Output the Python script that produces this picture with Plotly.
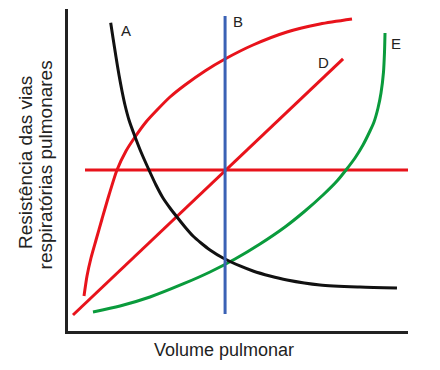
import plotly.graph_objects as go

# Schematic data (arbitrary units, 0-100 on both axes)
a_x = [12.56, 13.24, 14.12, 15.0, 15.88, 16.76, 17.94, 19.41, 21.47, 23.82, 25.88, 27.94, 30.0,
       32.06, 34.41, 36.76, 39.12, 41.76, 45.59, 50.59, 54.41, 59.41, 64.41, 74.12, 85.88, 96.76]
a_y = [95.75, 90.99, 85.09, 79.50, 74.53, 70.19, 65.53, 61.18, 55.59, 50.0, 45.34, 41.30, 38.20,
       35.40, 32.30, 29.50, 27.33, 25.16, 22.67, 20.19, 18.63, 17.08, 15.84, 14.29, 13.66, 13.35]

b_x = [46.2, 46.2]
b_y = [5.3, 97.8]

c_x = [4.71, 5.59, 6.76, 8.24, 10.0, 12.06, 14.41, 17.06, 19.71, 22.94, 26.18, 30.0, 34.41,
       40.29, 46.18, 54.41, 64.41, 74.12, 83.53]
c_y = [10.87, 17.08, 22.67, 28.26, 34.78, 42.24, 50.0, 55.90, 60.25, 64.91, 68.63, 72.67, 76.40,
       80.75, 84.47, 88.82, 92.86, 95.34, 96.89]

d_x = [1.47, 80.9]
d_y = [4.97, 84.5]

e_x = [7.35, 15.29, 24.12, 33.82, 41.76, 49.12, 56.47, 63.82, 69.71, 75.0, 79.12, 81.76, 84.41,
       86.76, 88.82, 90.0, 91.18, 92.06, 92.79, 93.09, 93.24]
e_y = [5.90, 7.76, 10.56, 14.60, 18.32, 22.36, 27.02, 32.30, 37.27, 42.24, 46.58, 50.0, 53.73,
       57.76, 62.11, 64.91, 69.25, 73.91, 80.43, 86.65, 92.55]

f_x = [5.0, 100.0]
f_y = [50.0, 50.0]

labels = ["A", "B", "C", "D", "E", "F"]
label_x = [17.1, 50.0, 81.8, 75.0, 96.5, 102.9]
label_y = [93.2, 96.0, 100.3, 83.5, 89.4, 50.0]

x_title = "Volume pulmonar"
y_title_lines = ["Resistência das vias", "respiratórias pulmonares"]

RED = "#e8131b"
BLUE = "#3b62b5"
GREEN = "#0a9b3c"
BLACK = "#111111"

fig = go.Figure()

def add_line(x, y, color, spline=True):
    fig.add_trace(go.Scatter(
        x=x, y=y, mode="lines",
        line=dict(color=color, width=3, shape="spline" if spline else "linear", smoothing=0.7),
        hoverinfo="skip", showlegend=False, cliponaxis=False,
    ))

add_line(f_x, f_y, RED, spline=False)
add_line(d_x, d_y, RED, spline=False)
add_line(c_x, c_y, RED)
add_line(e_x, e_y, GREEN)
add_line(a_x, a_y, BLACK)
add_line(b_x, b_y, BLUE, spline=False)

for t, x, y in zip(labels, label_x, label_y):
    fig.add_annotation(x=x, y=y, xref="x", yref="y", text=t, showarrow=False,
                       font=dict(family="Liberation Sans, Arial", size=15, color="#222"),
                       xanchor="center", yanchor="middle")

fig.add_annotation(x=0.46, y=-0.059, xref="paper", yref="paper", text=x_title,
                   showarrow=False, xanchor="center", yanchor="middle",
                   font=dict(family="Liberation Sans, Arial", size=18, color="#222"))

fig.add_annotation(x=-0.1235, y=0.522, xref="paper", yref="paper", text=y_title_lines[0],
                   showarrow=False, textangle=-90, xanchor="center", yanchor="middle",
                   font=dict(family="Liberation Sans, Arial", size=19, color="#222"))
fig.add_annotation(x=-0.066, y=0.516, xref="paper", yref="paper", text=y_title_lines[1],
                   showarrow=False, textangle=-90, xanchor="center", yanchor="middle",
                   font=dict(family="Liberation Sans, Arial", size=19, color="#222"))

axis_common = dict(showgrid=False, zeroline=False, showticklabels=False, ticks="",
                   showline=True, linecolor="#222", linewidth=3, fixedrange=True)

fig.update_layout(
    width=440, height=370,
    margin=dict(l=68, r=32, t=9, b=39),
    paper_bgcolor="white", plot_bgcolor="white",
    xaxis=dict(range=[0, 100], **axis_common),
    yaxis=dict(range=[0, 100], **axis_common),
    showlegend=False,
)

fig.write_html("out.html", config={"displayModeBar": False})
